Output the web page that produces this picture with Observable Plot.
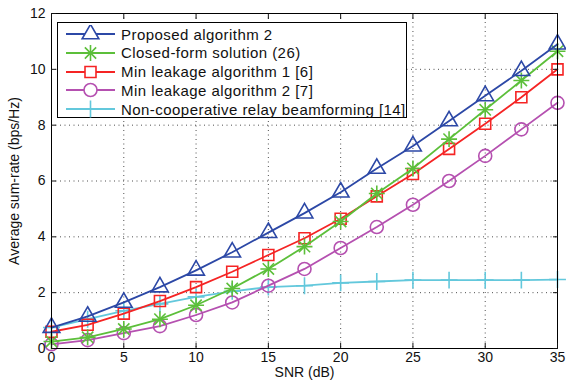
<!DOCTYPE html>
<html>
<head>
<meta charset="utf-8">
<script src="https://cdn.jsdelivr.net/npm/d3@7"></script>
<script src="https://cdn.jsdelivr.net/npm/@observablehq/plot@0.6"></script>
<style>
  html, body { margin: 0; padding: 0; background: white; }
  #wrap { position: relative; width: 566px; height: 383px; font-family: "Liberation Sans", Arial, sans-serif; }
  #legend { position: absolute; left: 57px; top: 22px; width: 350px; height: 96px; background: white; border: 1px solid black; box-sizing: border-box; }
  #legend .row { position: absolute; left: 0; height: 19px; display: flex; align-items: center; font-size: 15px; letter-spacing: 0.45px; color: #111; white-space: nowrap; }
  #legend svg { display: block; margin-left: 8px; margin-right: 6px; }
</style>
</head>
<body>
<div id="wrap"><div id="chart"></div><div id="legend"></div></div>
<script>
const snr = [0, 2.5, 5, 7.5, 10, 12.5, 15, 17.5, 20, 22.5, 25, 27.5, 30, 32.5, 35];
const proposed2 = [0.75, 1.15, 1.65, 2.2, 2.8, 3.45, 4.15, 4.85, 5.6, 6.45, 7.25, 8.15, 9.05, 9.95, 10.9];
const closedForm = [0.25, 0.4, 0.7, 1.05, 1.55, 2.15, 2.85, 3.65, 4.55, 5.55, 6.45, 7.5, 8.55, 9.6, 10.65];
const minLeak1 = [0.6, 0.85, 1.25, 1.7, 2.2, 2.75, 3.35, 3.95, 4.65, 5.45, 6.25, 7.15, 8.05, 9.0, 10.0];
const minLeak2 = [0.15, 0.3, 0.55, 0.8, 1.2, 1.65, 2.25, 2.85, 3.6, 4.35, 5.15, 6.0, 6.9, 7.85, 8.8];
const nonCoop = [0.75, 1.05, 1.35, 1.6, 1.85, 2.05, 2.2, 2.25, 2.35, 2.4, 2.45, 2.45, 2.45, 2.45, 2.47];
const xTicks = [0, 5, 10, 15, 20, 25, 30, 35];
const yTicks = [0, 2, 4, 6, 8, 10, 12];

const seriesNames = ["Proposed algorithm 2", "Closed-form solution (26)", "Min leakage algorithm 1 [6]", "Min leakage algorithm 2 [7]", "Non-cooperative relay beamforming [14]"];
const seriesValues = [proposed2, closedForm, minLeak1, minLeak2, nonCoop];
const seriesColors = ["#2c48a6", "#5cbf3a", "#f52424", "#b550b0", "#63c8dc"];
const seriesSymbols = [["triangle"], ["plus", "times"], ["square"], ["circle"], ["plus"]];
const seriesR = [[6.2], [5.2, 5.2], [6.2], [6.5], [5.5]];

const data = seriesValues.map((vals, i) => snr.map((x, j) => ({x, y: vals[j], s: seriesNames[i]})));

const marks = [
  Plot.gridX(xTicks, {stroke: "#222", strokeOpacity: 1, strokeDasharray: "1,3.5", strokeWidth: 0.8}),
  Plot.gridY(yTicks, {stroke: "#222", strokeOpacity: 1, strokeDasharray: "1,3.5", strokeWidth: 0.8}),
];
for (let i = seriesValues.length - 1; i >= 0; i--) {
  marks.push(Plot.line(data[i], {x: "x", y: "y", stroke: seriesColors[i], strokeWidth: 1.8}));
  seriesSymbols[i].forEach((sym, k) => {
    marks.push(Plot.dot(data[i], {x: "x", y: "y", symbol: sym, r: seriesR[i][k], stroke: seriesColors[i], fill: "none", strokeWidth: 1.6}));
  });
}
marks.push(
  Plot.frame({stroke: "black", strokeWidth: 1}),
  Plot.axisX(xTicks, {tickSize: -5, tickPadding: 9, label: "SNR (dB)", labelAnchor: "center", labelArrow: "none", labelOffset: 28, fontSize: 14}),
  Plot.axisX(xTicks, {anchor: "top", tickSize: -5, tickFormat: () => "", label: null}),
  Plot.axisY(yTicks, {tickSize: -5, tickPadding: 11, label: "Average sum-rate (bps/Hz)", labelAnchor: "center", labelArrow: "none", labelOffset: 42, fontSize: 14}),
  Plot.axisY(yTicks, {anchor: "right", tickSize: -5, tickFormat: () => "", label: null})
);

const chart = Plot.plot({
  width: 566, height: 383,
  marginLeft: 51, marginRight: 9, marginTop: 13, marginBottom: 35,
  style: {fontFamily: "'Liberation Sans', Arial, sans-serif", fontSize: "14px", background: "white", color: "#111"},
  x: {domain: [0, 35]},
  y: {domain: [0, 12]},
  marks
});
document.getElementById("chart").appendChild(chart);

const legend = d3.select("#legend");
const symMap = {triangle: d3.symbolTriangle, square: d3.symbolSquare, circle: d3.symbolCircle, plus: d3.symbolPlus, times: d3.symbolTimes};
seriesNames.forEach((name, i) => {
  const row = legend.append("div").attr("class", "row").style("top", (1.5 + i * 18.8) + "px");
  const svg = row.append("svg").attr("width", 49).attr("height", 18);
  svg.append("line").attr("x1", 0).attr("x2", 49).attr("y1", 9).attr("y2", 9).attr("stroke", seriesColors[i]).attr("stroke-width", 1.8);
  seriesSymbols[i].forEach((sym, k) => {
    const r = seriesR[i][k];
    svg.append("path").attr("transform", "translate(24.5,9)")
      .attr("d", d3.symbol(symMap[sym], Math.PI * r * r)())
      .attr("fill", sym === "circle" || sym === "triangle" || sym === "square" ? "white" : "none")
      .attr("stroke", seriesColors[i]).attr("stroke-width", 1.6);
  });
  row.append("span").text(name);
});
</script>
</body>
</html>
